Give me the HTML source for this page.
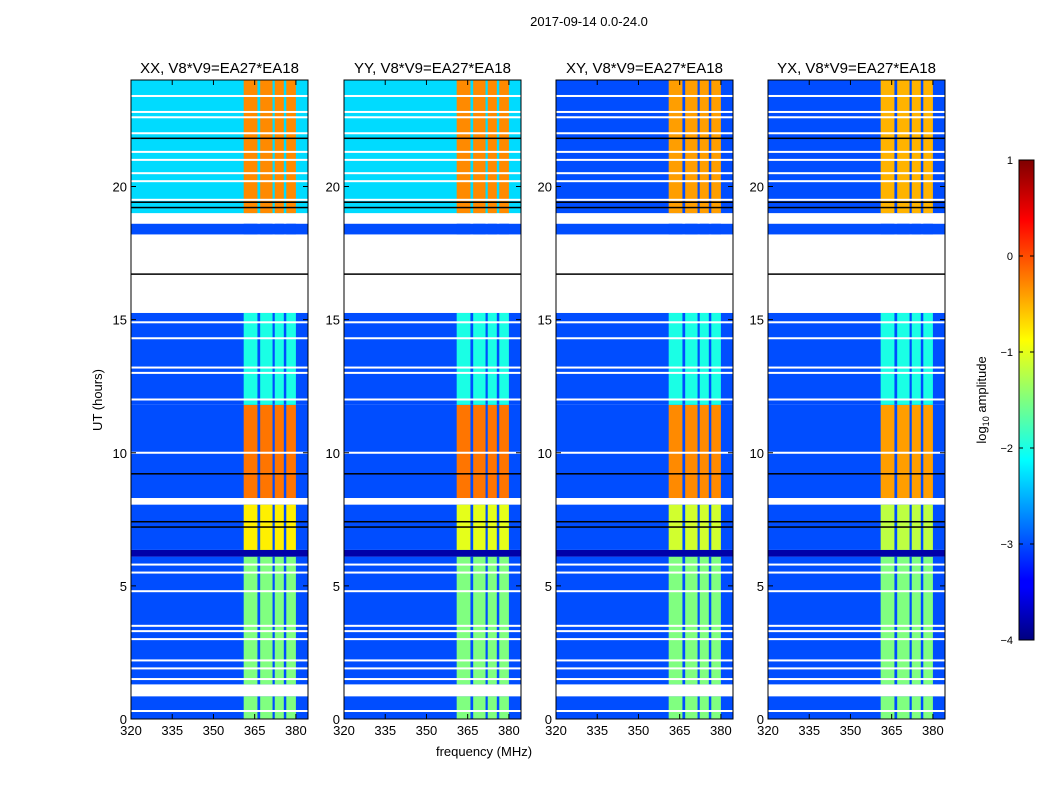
<!DOCTYPE html>
<html><head><meta charset="utf-8"><style>
body{margin:0;background:#fff;width:1050px;height:800px;overflow:hidden;font-family:"Liberation Sans",sans-serif}
</style></head><body>
<svg id="fig" width="1050" height="800" xmlns="http://www.w3.org/2000/svg" font-family="Liberation Sans, sans-serif">
<defs>
<linearGradient id="jet" x1="0" y1="1" x2="0" y2="0">
<stop offset="0" stop-color="#00007f"/><stop offset="0.11" stop-color="#0000ff"/><stop offset="0.125" stop-color="#0000ff"/>
<stop offset="0.375" stop-color="#00ffff"/><stop offset="0.625" stop-color="#ffff00"/><stop offset="0.875" stop-color="#ff0000"/><stop offset="1" stop-color="#7f0000"/>
</linearGradient>
</defs>
<text x="589" y="26" font-size="13" text-anchor="middle">2017-09-14 0.0-24.0</text>
<text x="484" y="756" font-size="13" text-anchor="middle">frequency (MHz)</text>
<text transform="translate(102,400) rotate(-90)" font-size="13" text-anchor="middle">UT (hours)</text>
<g id="panels"></g>
<rect x="1019" y="160" width="15" height="480" fill="url(#jet)" stroke="#000"/>
<g id="cbar"></g>
<text transform="translate(986,400) rotate(-90)" font-size="13" text-anchor="middle">log<tspan font-size="9" dy="3">10</tspan><tspan dy="-3"> amplitude</tspan></text>
</svg>
<script>
const pols=["XX","YY","XY","YX"];
const segStart=[0,1.3,6.1,6.35,8.3,11.8,18.2,19.0];
const segEnd=[0.85,6.1,6.35,8.05,11.8,15.25,18.6,24];
const bandXX=[-1.5,-1.5,-3.8,-0.8,-0.2,-2.0,-3.0,-0.3];
const bandYY=[-1.5,-1.5,-3.8,-1.0,-0.2,-2.0,-3.0,-0.3];
const bandXY=[-1.5,-1.5,-3.8,-1.1,-0.3,-2.0,-3.0,-0.4];
const bandYX=[-1.5,-1.5,-3.8,-1.2,-0.4,-2.0,-3.0,-0.5];
const bgXX=[-3.0,-3.0,-3.8,-3.0,-3.0,-3.0,-3.0,-2.3];
const bgYY=[-3.0,-3.0,-3.8,-3.0,-3.0,-3.0,-3.0,-2.3];
const bgXY=[-3.0,-3.0,-3.8,-3.0,-3.0,-3.0,-3.0,-3.0];
const bgYX=[-3.0,-3.0,-3.8,-3.0,-3.0,-3.0,-3.0,-3.0];
const bandCols=[[361,366],[367,371.5],[372.3,375.6],[376.5,380]];
const whiteLines=[0.3,1.5,1.9,2.2,3.0,3.3,3.5,4.8,5.5,5.8,10.0,12.0,13.0,13.2,14.3,14.9,19.5,20.2,20.5,21.0,21.3,22.0,22.6,22.8,23.4];
const blackLines=[7.2,7.4,9.2,16.7,19.2,19.4,21.8];
const yTicks=[0,5,10,15,20];
const xTicks=[320,335,350,365,380];
const cbTicks=[1,0,-1,-2,-3,-4];
const lefts=[131,344,556,768];
const TOP=80,PH=639,PW=177,fmin=320,fmax=384.4,tmax=24;
function jet(v){let t=(v+4)/5;t=Math.max(0,Math.min(1,t));
 const c=x=>Math.round(255*Math.max(0,Math.min(1,x)));
 return `rgb(${c(Math.min(4*t-1.5,-4*t+4.5))},${c(Math.min(4*t-0.5,-4*t+3.5))},${c(Math.min(4*t+0.5,-4*t+2.5))})`;}
const NS="http://www.w3.org/2000/svg";
const pgroot=document.getElementById("panels");
function mk(tag,attrs,parent){const e=document.createElementNS(NS,tag);for(const k in attrs)e.setAttribute(k,attrs[k]);(parent||pgroot).appendChild(e);return e;}
const bands=[bandXX,bandYY,bandXY,bandYX],bgs=[bgXX,bgYY,bgXY,bgYX];
pols.forEach((p,i)=>{
 const L=lefts[i];
 const xs=f=>L+(f-fmin)/(fmax-fmin)*PW;
 const ys=h=>TOP+PH-h/tmax*PH;
 const pg=mk("g",{});
 
 
 segStart.forEach((s,k)=>{
  const y0=ys(segEnd[k]),y1=ys(s);
  const r=mk("rect",{x:L,y:y0,width:PW,height:y1-y0,fill:jet(bgs[i][k])},pg);
  
  
  bandCols.forEach(bc=>{
   const b=mk("rect",{x:xs(bc[0]),y:y0,width:xs(bc[1])-xs(bc[0]),height:y1-y0,fill:jet(bands[i][k])},pg);
   
   
  });
 });
 whiteLines.forEach(h=>{const l=mk("rect",{x:L,y:ys(h)-1,width:PW,height:2,fill:"#fff"},pg);
  
  });
 blackLines.forEach(h=>{const l=mk("rect",{x:L,y:ys(h)-1,width:PW,height:1.5,fill:"#000"},pg);
  
  });
 const fr=mk("rect",{x:L,y:TOP,width:PW,height:PH,fill:"none",stroke:"#000"},pg);
 
 
 const t=mk("text",{x:L+PW/2,y:TOP-7,"font-size":15,"text-anchor":"middle"},pg);
 t.textContent=p+", V8*V9=EA27*EA18";
 
 
 yTicks.forEach(v=>{const y=ys(v);
  mk("line",{x1:L,x2:L+5,y1:y,y2:y,stroke:"#000"},pg);mk("line",{x1:L+PW-5,x2:L+PW,y1:y,y2:y,stroke:"#000"},pg);
  const tt=mk("text",{x:L-4,y:y+5,"font-size":13,"text-anchor":"end"},pg);tt.textContent=v;
  
  });
 xTicks.forEach(v=>{const x=xs(v);
  mk("line",{x1:x,x2:x,y1:TOP+PH,y2:TOP+PH-5,stroke:"#000"},pg);mk("line",{x1:x,x2:x,y1:TOP,y2:TOP+5,stroke:"#000"},pg);
  const tt=mk("text",{x:x,y:TOP+PH+16,"font-size":13,"text-anchor":"middle"},pg);tt.textContent=v;
  
  });
});
const cb=document.getElementById("cbar");
cbTicks.forEach(v=>{const y=640-(v+4)/5*480;
 mk("line",{x1:1019,x2:1023,y1:y,y2:y,stroke:"#000"},cb);mk("line",{x1:1030,x2:1034,y1:y,y2:y,stroke:"#000"},cb);
 const tt=mk("text",{x:1013,y:y+4,"font-size":11,"text-anchor":"end"},cb);tt.textContent=v<0?"\u2212"+(-v):v;
 
 });
</script>
</body></html>
